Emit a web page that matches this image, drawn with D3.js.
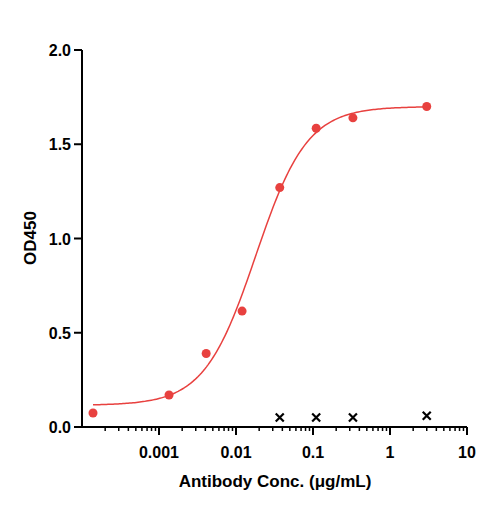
<!DOCTYPE html><html><head><script src="https://cdn.jsdelivr.net/npm/d3@7"></script>
<style>body{margin:0;background:#fff}text{font-family:Arial,"Liberation Sans",sans-serif;font-weight:bold}</style></head><body><svg id="c" width="485" height="508"></svg><script>
const concs=[0.000139,0.00135,0.0041,0.012,0.037,0.11,0.33,3.0];
const od=[0.074,0.17,0.39,0.615,1.27,1.585,1.64,1.70];
const ctrlConcs=[0.037,0.11,0.33,3.0];
const ctrlOd=[0.05,0.05,0.05,0.06];
const fit={bottom:0.115,top:1.70,ec50:0.018,hill:1.3};
const xTicks=[0.001,0.01,0.1,1,10];
const yTicks=[0,0.5,1.0,1.5,2.0];
const svg=d3.select("#c");
const x=d3.scaleLog().domain([1e-4,10]).range([82,467]);
const y=d3.scaleLinear().domain([0,2]).range([427,50]);
const red="#e8413f";
const xa=svg.append("g").attr("transform","translate(0,427)");
xa.append("line").attr("x1",82).attr("x2",467).attr("stroke","#000").attr("stroke-width",2);
const minors=[];for(let e=-4;e<1;e++)for(let k=2;k<=9;k++)minors.push(k*Math.pow(10,e));
xa.selectAll(".mn").data(minors).join("line").attr("x1",d=>x(d)).attr("x2",d=>x(d)).attr("y2",4).attr("stroke","#000").attr("stroke-width",1.5);
xa.selectAll(".mj").data(xTicks).join("line").attr("x1",d=>x(d)).attr("x2",d=>x(d)).attr("y2",8).attr("stroke","#000").attr("stroke-width",2);
xa.selectAll(".tl").data(xTicks).join("text").attr("x",d=>x(d)).attr("y",31).attr("text-anchor","middle").attr("font-size",16).text(d=>String(d));
const ya=svg.append("g");
ya.append("line").attr("x1",82).attr("x2",82).attr("y1",50).attr("y2",428).attr("stroke","#000").attr("stroke-width",2);
ya.selectAll("line.t").data(yTicks).join("line").attr("class","t").attr("x1",74).attr("x2",82).attr("y1",d=>y(d)).attr("y2",d=>y(d)).attr("stroke","#000").attr("stroke-width",2);
ya.selectAll("text").data(yTicks).join("text").attr("x",71).attr("y",d=>y(d)+6).attr("text-anchor","end").attr("font-size",16).text(d=>d.toFixed(1));
svg.append("text").attr("transform","translate(36,238) rotate(-90)").attr("text-anchor","middle").attr("font-size",17).text("OD450");
svg.append("text").attr("x",275).attr("y",487).attr("text-anchor","middle").attr("font-size",17).text("Antibody Conc. (μg/mL)");
const f=c=>fit.bottom+(fit.top-fit.bottom)/(1+Math.pow(fit.ec50/c,fit.hill));
const cs=d3.range(0,201).map(i=>Math.pow(10,Math.log10(concs[0])+i/200*(Math.log10(concs[concs.length-1])-Math.log10(concs[0]))));
svg.append("path").attr("d",d3.line().x(c=>x(c)).y(c=>y(f(c)))(cs)).attr("fill","none").attr("stroke",red).attr("stroke-width",1.5);
svg.selectAll("circle").data(concs).join("circle").attr("cx",d=>x(d)).attr("cy",(d,i)=>y(od[i])).attr("r",4.5).attr("fill",red);
svg.selectAll("path.x").data(ctrlConcs).join("path").attr("class","x").attr("transform",(d,i)=>`translate(${x(d)},${y(ctrlOd[i])})`).attr("d","M-4,-4L4,4M-4,4L4,-4").attr("stroke","#000").attr("stroke-width",2.2);
</script></body></html>
